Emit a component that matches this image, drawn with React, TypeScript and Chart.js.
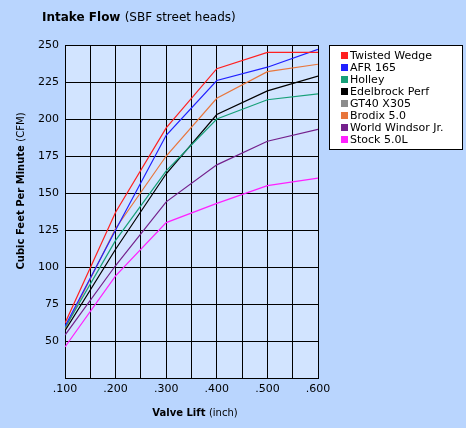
import { useEffect, useRef } from "react";
import { Chart, registerables } from "chart.js";

Chart.register(...registerables);

const liftValues = [0.1, 0.2, 0.3, 0.4, 0.5, 0.6];

const seriesNames = [
  "Twisted Wedge",
  "AFR 165",
  "Holley",
  "Edelbrock Perf",
  "GT40 X305",
  "Brodix 5.0",
  "World Windsor Jr.",
  "Stock 5.0L",
];

const twistedWedge = [62, 137, 194, 234, 245, 245];
const afr165 = [60, 125, 189, 226, 235, 247];
const holley = [59, 118, 165, 200, 213, 217];
const edelbrockPerf = [57, 112, 163, 203, 219, 229];
const gt40x305: number[] = [];
const brodix50 = [58, 126, 175, 214, 232, 237];
const worldWindsor = [54, 101, 144, 169, 185, 193];
const stock50 = [46, 94, 130, 143, 155, 160];

const seriesValues = [twistedWedge, afr165, holley, edelbrockPerf, gt40x305, brodix50, worldWindsor, stock50];
const seriesColors = ["#ff2020", "#2020ff", "#17a078", "#000000", "#8c8c8c", "#e8763c", "#74208c", "#ff20ff"];

const FONT = "'DejaVu Sans', sans-serif";
const OUTER_BG = "#b9d5fe";
const INNER_BG = "#d2e4ff";

function drawMixed(ctx, parts, x, y, size, align) {
  const widths = parts.map((p) => {
    ctx.font = `${p.bold ? "bold " : ""}${size}px ${FONT}`;
    return ctx.measureText(p.text).width;
  });
  const total = widths.reduce((a, b) => a + b, 0);
  let cx = align === "center" ? x - total / 2 : x;
  parts.forEach((p, i) => {
    ctx.font = `${p.bold ? "bold " : ""}${size}px ${FONT}`;
    ctx.fillText(p.text, cx, y);
    cx += widths[i];
  });
}

const decorations = {
  id: "decorations",
  beforeDraw(chart) {
    const { ctx, chartArea } = chart;
    ctx.save();
    ctx.fillStyle = OUTER_BG;
    ctx.fillRect(0, 0, chart.width, chart.height);
    ctx.fillStyle = INNER_BG;
    ctx.fillRect(chartArea.left, chartArea.top, chartArea.right - chartArea.left, chartArea.bottom - chartArea.top);
    ctx.restore();
  },
  afterDraw(chart) {
    const { ctx } = chart;
    ctx.save();
    ctx.fillStyle = "#000";
    ctx.textAlign = "left";
    ctx.textBaseline = "alphabetic";
    drawMixed(ctx, [{ text: "Intake Flow ", bold: true }, { text: "(SBF street heads)", bold: false }], 42, 21, 12, "left");
    drawMixed(ctx, [{ text: "Valve Lift ", bold: true }, { text: "(inch)", bold: false }], 195, 416, 10, "center");

    ctx.save();
    ctx.translate(24, 191);
    ctx.rotate(-Math.PI / 2);
    drawMixed(ctx, [{ text: "Cubic Feet Per Minute ", bold: true }, { text: "(CFM)", bold: false }], 0, 0, 10, "center");
    ctx.restore();

    // legend
    ctx.fillStyle = "#fff";
    ctx.fillRect(329.5, 45.5, 133, 104);
    ctx.strokeStyle = "#000";
    ctx.lineWidth = 1;
    ctx.strokeRect(329.5, 45.5, 133, 104);
    ctx.textBaseline = "middle";
    ctx.font = `11px ${FONT}`;
    seriesNames.forEach((name, i) => {
      const cy = 55.5 + i * 12;
      ctx.fillStyle = seriesColors[i];
      ctx.fillRect(341, cy - 3.5, 7, 7);
      ctx.fillStyle = "#000";
      ctx.fillText(name, 350, cy + 0.5);
    });
    ctx.restore();
  },
};

export default function App() {
  const canvasRef = useRef(null);

  useEffect(() => {
    const chart = new Chart(canvasRef.current.getContext("2d"), {
      type: "line",
      data: {
        datasets: seriesNames.map((name, i) => ({
          label: name,
          data: seriesValues[i].map((v, j) => ({ x: liftValues[j], y: v })),
          borderColor: seriesColors[i],
          backgroundColor: seriesColors[i],
          borderWidth: 1.2,
          pointRadius: 0,
          tension: 0,
          fill: false,
        })),
      },
      options: {
        animation: false,
        responsive: false,
        layout: { padding: { top: 45, right: 148, left: 0, bottom: 0 } },
        plugins: {
          legend: { display: false },
          tooltip: { enabled: false },
        },
        scales: {
          x: {
            type: "linear",
            min: 0.1,
            max: 0.6,
            afterFit: (s) => {
              s.height = 50;
              s.paddingLeft = 0;
              s.paddingRight = 0;
            },
            grid: { color: "#000", lineWidth: 1, drawTicks: false },
            border: { color: "#000", width: 1 },
            ticks: {
              stepSize: 0.05,
              autoSkip: false,
              maxRotation: 0,
              padding: 5,
              color: "#000",
              font: { family: FONT, size: 11 },
              callback: (v) => {
                const r = Math.round(Number(v) * 1000);
                return r % 100 === 0 ? "." + r : "";
              },
            },
          },
          y: {
            min: 25,
            max: 250,
            afterFit: (s) => {
              s.width = 65;
              s.paddingTop = 0;
              s.paddingBottom = 0;
            },
            grid: { color: "#000", lineWidth: 1, drawTicks: false },
            border: { color: "#000", width: 1 },
            ticks: {
              stepSize: 25,
              padding: 6,
              color: "#000",
              font: { family: FONT, size: 11 },
              callback: (v) => (v === 25 ? "" : String(v)),
            },
          },
        },
      },
      plugins: [decorations],
    });
    return () => chart.destroy();
  }, []);

  return (
    <div style={{ position: "absolute", left: 0, top: 0, width: 466, height: 428, background: OUTER_BG }}>
      <canvas ref={canvasRef} width={466} height={428} />
    </div>
  );
}
